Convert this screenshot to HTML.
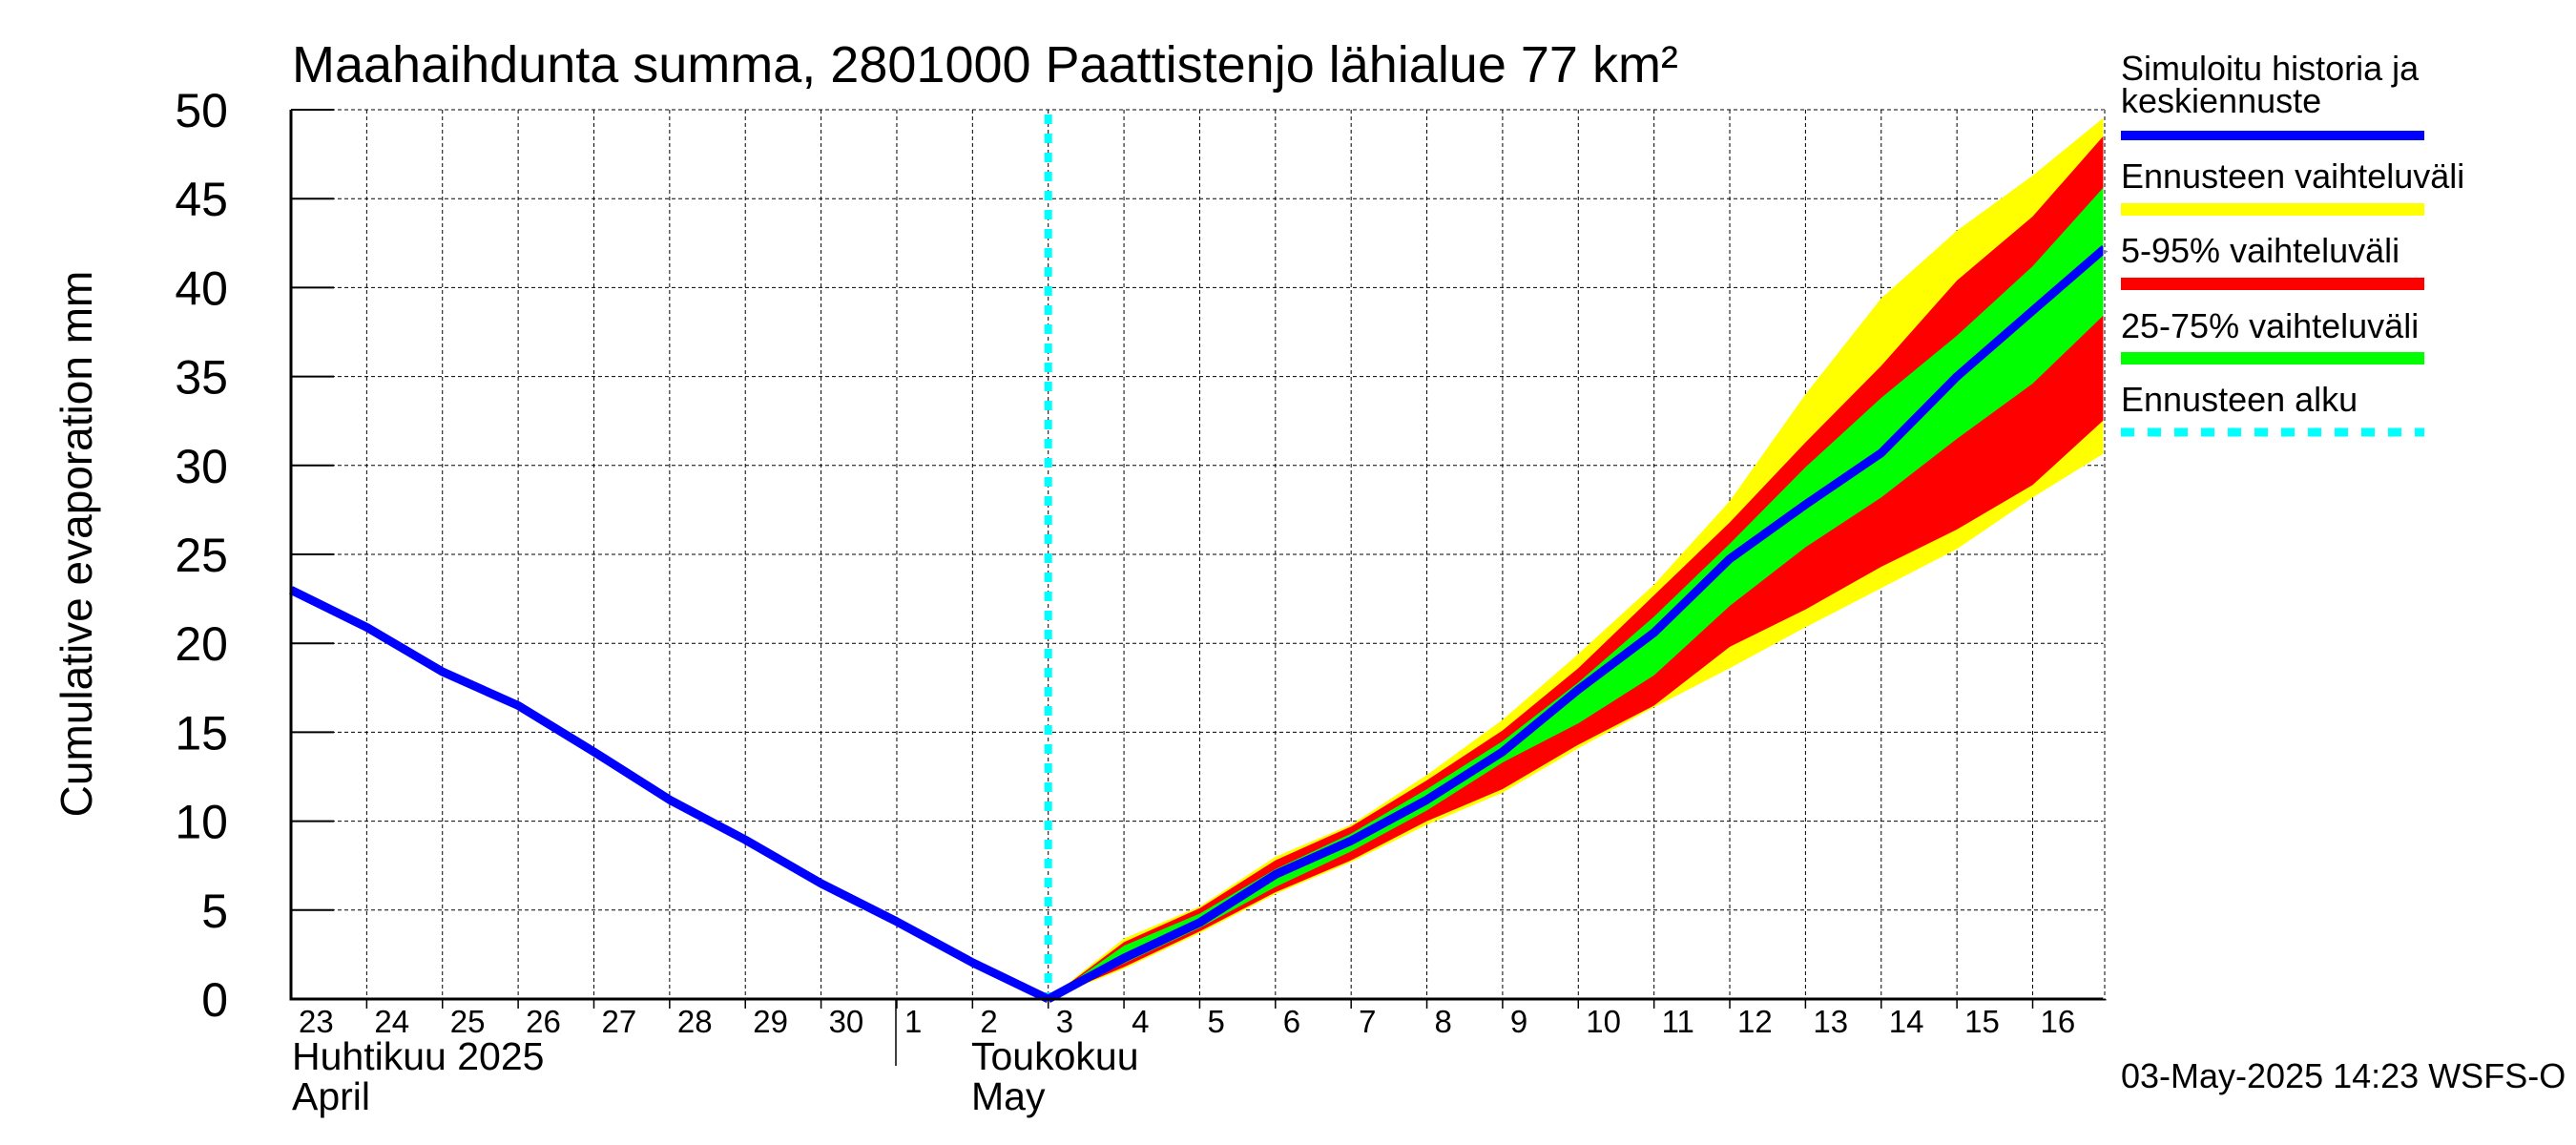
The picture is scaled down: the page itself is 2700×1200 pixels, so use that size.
<!DOCTYPE html>
<html><head><meta charset="utf-8"><style>
html,body{margin:0;padding:0;background:#fff}
svg{display:block;font-family:"Liberation Sans",sans-serif}
</style></head><body>
<svg id="chart" width="2700" height="1200" viewBox="0 0 2700 1200" xmlns="http://www.w3.org/2000/svg">
<g id="grid"></g>
<g id="bands"></g>
<g id="lines"></g>
<g id="axes"></g>
<text x="306" y="86" font-size="54">Maahaihdunta summa, 2801000 Paattistenjo lähialue 77 km²</text>
<text transform="translate(96,570) rotate(-90)" text-anchor="middle" font-size="46">Cumulative evaporation   mm</text>
<text x="306" y="1121" font-size="41">Huhtikuu  2025</text>
<text x="306" y="1163" font-size="41">April</text>
<text x="1018" y="1121" font-size="41">Toukokuu</text>
<text x="1018" y="1163" font-size="41">May</text>
<line x1="939" y1="1047" x2="939" y2="1117" stroke="#000" stroke-width="1.5"/>
<g>
<text x="2223" y="84" font-size="36">Simuloitu historia ja</text>
<text x="2223" y="118" font-size="36">keskiennuste</text>
<rect x="2223" y="137" width="318" height="10" fill="#0000ff"/>
<text x="2223" y="197" font-size="36">Ennusteen vaihteluväli</text>
<rect x="2223" y="213" width="318" height="13" fill="#ffff00"/>
<text x="2223" y="275" font-size="36">5-95% vaihteluväli</text>
<rect x="2223" y="291" width="318" height="13" fill="#ff0000"/>
<text x="2223" y="354" font-size="36">25-75% vaihteluväli</text>
<rect x="2223" y="369" width="318" height="13" fill="#00ff00"/>
<text x="2223" y="431" font-size="36">Ennusteen alku</text>
<line x1="2223" y1="453" x2="2541" y2="453" stroke="#00ffff" stroke-width="9" stroke-dasharray="14,14"/>
</g>
<text x="2223" y="1140" font-size="36">03-May-2025 14:23 WSFS-O</text>
</svg>
<script>
const dayLabels = ["23","24","25","26","27","28","29","30","1","2","3","4","5","6","7","8","9","10","11","12","13","14","15","16"];
const yTicks = [0,5,10,15,20,25,30,35,40,45,50];
const histX = [0,1,2,3,4,5,6,7,8,9,10];
const histY = [23.0,20.9,18.4,16.5,13.9,11.2,8.95,6.5,4.35,2.05,0];
const fcX = [10,11,12,13,14,15,16,17,18,19,20,21,22,23,23.95];
const median = [0,2.3,4.3,7.0,8.9,11.2,13.9,17.4,20.6,24.75,27.8,30.7,35.0,38.7,42.2];
const yellowHi = [0,3.4,5.2,8.0,9.8,12.6,15.7,19.4,23.3,28.0,34.0,39.4,43.2,46.3,49.6];
const redHi = [0,3.2,5.1,7.8,9.7,12.3,15.1,18.6,22.7,26.8,31.3,35.6,40.4,44.0,48.6];
const greenHi = [0,3.0,4.8,7.3,9.3,11.8,14.5,17.8,21.5,25.6,29.9,33.8,37.3,41.2,45.7];
const greenLo = [0,2.0,4.0,6.3,8.3,10.6,13.3,15.5,18.2,22.1,25.4,28.2,31.5,34.6,38.5];
const redLo = [0,1.8,3.8,6.0,7.8,10.0,11.8,14.3,16.5,19.8,21.9,24.3,26.4,28.9,32.6];
const yellowLo = [0,1.7,3.7,5.9,7.7,9.8,11.6,14.1,16.4,18.6,20.9,23.1,25.3,28.2,30.7];
const forecastStart = 10;

const L=305,R=2206,T=115,B=1047,DAY=79.37;
const sx=d=>L+d*DAY;
const sy=v=>B-(v/50)*(B-T);
const NS="http://www.w3.org/2000/svg";
function mk(tag,parent,attrs){const e=document.createElementNS(NS,tag);for(const k in attrs)e.setAttribute(k,attrs[k]);parent.appendChild(e);return e;}
const grid=document.getElementById('grid'),bands=document.getElementById('bands'),lines=document.getElementById('lines'),axes=document.getElementById('axes');
yTicks.forEach(v=>{
  if(v>0){const g=mk('line',grid,{x1:L,x2:R,y1:sy(v),y2:sy(v),stroke:'#000','stroke-width':1,'stroke-dasharray':'4,3'});
  
  }
  const t=mk('line',axes,{x1:L,x2:L+45,y1:sy(v),y2:sy(v),stroke:'#000','stroke-width':2});
  
  
  const lb=mk('text',axes,{x:239,y:sy(v)+18,'text-anchor':'end','font-size':50});
  lb.textContent=v;
  
  
});
dayLabels.forEach((d,i)=>{
  if(i>0){const g=mk('line',grid,{x1:sx(i),x2:sx(i),y1:T,y2:B,stroke:'#000','stroke-width':1,'stroke-dasharray':'4,3'});
  
  
  const t=mk('line',axes,{x1:sx(i),x2:sx(i),y1:B,y2:B+10,stroke:'#000','stroke-width':1.5});
  
  }
  const lb=mk('text',axes,{x:sx(i)+8,y:1082,'font-size':33});
  lb.textContent=d;
  
  
});
function band(hi,lo,color,name){
  let p=fcX.map((x,i)=>sx(x)+','+sy(hi[i]));
  for(let i=fcX.length-1;i>=0;i--)p.push(sx(fcX[i])+','+sy(lo[i]));
  const e=mk('polygon',bands,{points:p.join(' '),fill:color});
  
  
}
band(yellowHi,yellowLo,'#ffff00','band-full-range');
band(redHi,redLo,'#ff0000','band-5-95');
band(greenHi,greenLo,'#00ff00','band-25-75');
const cy=mk('line',lines,{x1:sx(forecastStart),x2:sx(forecastStart),y1:T+5,y2:B,stroke:'#00ffff','stroke-width':8,'stroke-dasharray':'10,10'});


const hp=mk('polyline',lines,{points:histX.map((x,i)=>sx(x)+','+sy(histY[i])).join(' '),fill:'none',stroke:'#0000ff','stroke-width':9,'stroke-linejoin':'round'});


const mp=mk('polyline',lines,{points:fcX.map((x,i)=>sx(x)+','+sy(median[i])).join(' '),fill:'none',stroke:'#0000ff','stroke-width':9,'stroke-linejoin':'round'});


const ax=mk('polyline',axes,{points:`${L},${T} ${L},${B} ${R},${B} ${R},${T}`,fill:'none',stroke:'#000','stroke-width':3});


const tl=mk('line',axes,{x1:L,x2:R,y1:T,y2:T,stroke:'#000','stroke-width':1,'stroke-dasharray':'4,3'});


const rl=mk('line',axes,{x1:R,x2:R,y1:T,y2:B,stroke:'#fff','stroke-width':3});


const rl2=mk('line',axes,{x1:R,x2:R,y1:T,y2:B,stroke:'#000','stroke-width':1,'stroke-dasharray':'4,3'});


</script>
</body></html>
